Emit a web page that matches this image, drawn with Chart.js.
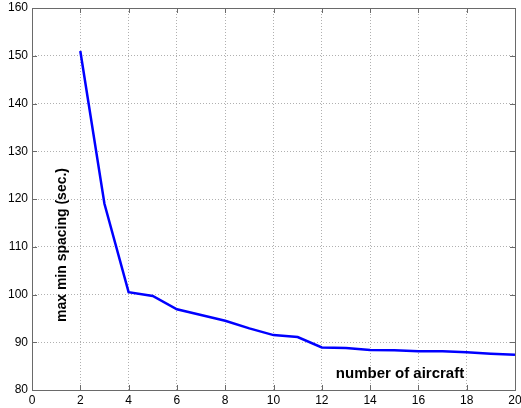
<!DOCTYPE html>
<html><head><meta charset="utf-8">
<script src="https://cdn.jsdelivr.net/npm/chart.js@4/dist/chart.umd.min.js"></script>
<style>html,body{margin:0;padding:0;background:#fff;}#wrap{width:521px;height:408px;}</style>
</head><body><div id="wrap"><canvas id="c" width="521" height="408"></canvas></div>
<script>
const aircraft = [2,3,4,5,6,7,8,9,10,11,12,13,14,15,16,17,18,19,20];
const spacing = [151,119,100.5,99.7,96.9,95.7,94.5,92.9,91.5,91.1,88.9,88.8,88.4,88.3,88.1,88.1,87.9,87.6,87.4];
const xTicks = [0,2,4,6,8,10,12,14,16,18,20];
const yTicks = [80,90,100,110,120,130,140,150,160];
const xTitle = 'number of aircraft';
const yTitle = 'max min spacing (sec.)';

const FONT = '"Liberation Sans", Arial, sans-serif';
const insidePlugin = {
  id: 'inside',
  afterDraw(chart) {
    const {ctx, chartArea: a, scales: {x, y}} = chart;
    ctx.save();
    ctx.strokeStyle = '#6a6a6a';
    ctx.lineWidth = 1;
    ctx.beginPath();
    xTicks.forEach(v => {
      const px = Math.round(x.getPixelForValue(v)) + 0.5;
      ctx.moveTo(px, a.bottom); ctx.lineTo(px, a.bottom - 5);
      ctx.moveTo(px, a.top); ctx.lineTo(px, a.top + 5);
    });
    yTicks.forEach(v => {
      const py = Math.round(y.getPixelForValue(v)) + 0.5;
      ctx.moveTo(a.left, py); ctx.lineTo(a.left + 5, py);
      ctx.moveTo(a.right, py); ctx.lineTo(a.right - 5, py);
    });
    ctx.stroke();
    ctx.strokeRect(Math.round(a.left)+0.5, Math.round(a.top)+0.5, Math.round(a.right-a.left), Math.round(a.bottom-a.top));
    ctx.fillStyle = '#000';
    ctx.textAlign = 'center';
    ctx.textBaseline = 'middle';
    ctx.font = 'bold 15px ' + FONT;
    ctx.fillText(xTitle, 400, 374);
    ctx.font = 'bold 14px ' + FONT;
    ctx.translate(62, 245);
    ctx.rotate(-Math.PI/2);
    ctx.fillText(yTitle, 0, 0);
    ctx.restore();
  }
};

new Chart(document.getElementById('c'), {
  type: 'line',
  data: {
    datasets: [{
      data: aircraft.map((v,i) => ({x: v, y: spacing[i]})),
      borderColor: '#0000ff',
      borderWidth: 2.5,
      pointRadius: 0,
      tension: 0,
      fill: false
    }]
  },
  options: {
    responsive: false,
    animation: false,
    devicePixelRatio: 1,
    layout: {padding: {top: 8, right: 6, left: 0, bottom: 0}},
    plugins: {legend: {display: false}, tooltip: {enabled: false}},
    scales: {
      x: {
        type: 'linear', min: 0, max: 20,
        afterBuildTicks: s => { s.ticks = xTicks.map(v => ({value: v})); },
        afterFit: s => { s.height = 18; s.paddingLeft = 0; s.paddingRight = 0; },
        border: {display: false, dash: [1,2]},
        grid: {color: '#b0b0b0', lineWidth: 1, drawTicks: false},
        ticks: {color: '#000', padding: 3, maxRotation: 0, font: {family: FONT, size: 12}}
      },
      y: {
        type: 'linear', min: 80, max: 160,
        afterBuildTicks: s => { s.ticks = yTicks.map(v => ({value: v})); },
        afterFit: s => { s.width = 32; s.paddingTop = 0; s.paddingBottom = 0; },
        border: {display: false, dash: [1,2]},
        grid: {color: '#b0b0b0', lineWidth: 1, drawTicks: false},
        ticks: {color: '#000', padding: 4, font: {family: FONT, size: 12}}
      }
    }
  },
  plugins: [insidePlugin]
});
</script></body></html>
